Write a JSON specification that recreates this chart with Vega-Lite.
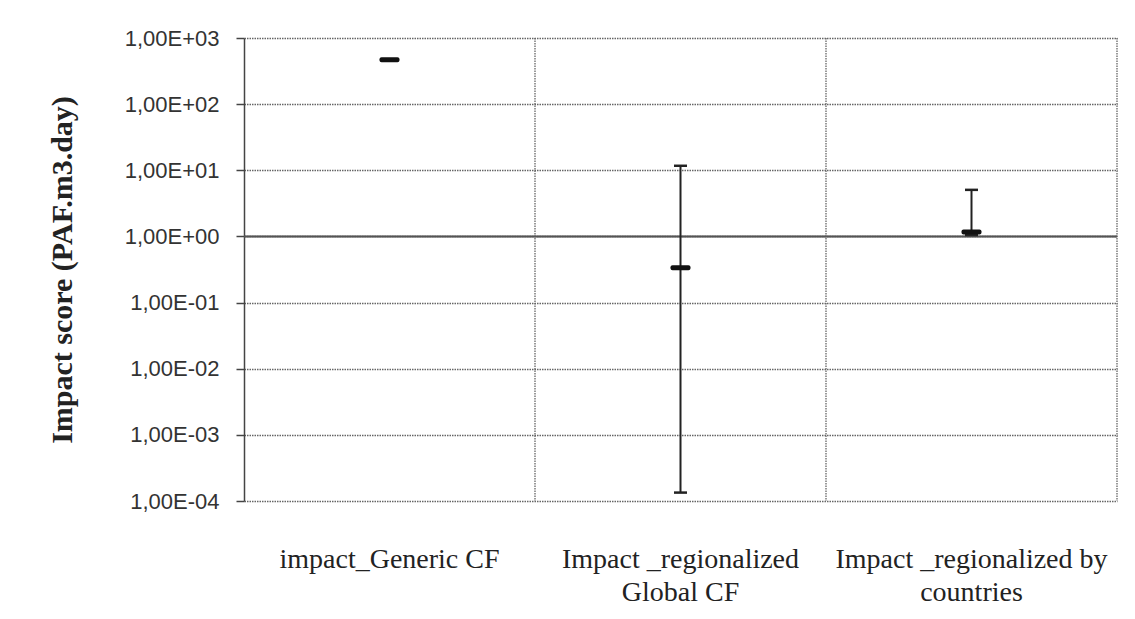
{
  "$schema": "https://vega.github.io/schema/vega-lite/v6.json",
  "autosize": "none",
  "width": 873,
  "height": 463,
  "padding": {"left": 244, "top": 38, "right": 18, "bottom": 118},
  "background": "white",
  "data": {
    "values": [
      {"cat": "impact_Generic CF", "value": 469, "lo": null, "hi": null},
      {"cat": "Impact _regionalized|Global CF", "value": 0.337, "lo": 0.000134, "hi": 11.7},
      {"cat": "Impact _regionalized by|countries", "value": 1.17, "lo": 1.05, "hi": 5.06}
    ]
  },
  "config": {
    "view": {"stroke": null},
    "font": "Liberation Serif"
  },
  "layer": [
    {
      "mark": {"type": "rule", "color": "#666", "strokeWidth": 1.3, "strokeDash": [1.5, 1]},
      "encoding": {
        "x": {
          "field": "cat",
          "type": "nominal",
          "sort": null,
          "bandPosition": 1,
          "scale": {"paddingInner": 0, "paddingOuter": 0},
          "axis": {
            "title": null,
            "labelAngle": 0,
            "labelExpr": "split(datum.label, '|')",
            "labelFont": "Liberation Serif",
            "labelFontSize": 28,
            "labelColor": "#222",
            "labelLineHeight": 33,
            "labelBaseline": "top",
            "labelPadding": 44,
            "labelLimit": 0,
            "ticks": false,
            "tickSize": 0,
            "domain": false,
            "grid": false
          }
        }
      }
    },
    {
      "mark": {"type": "tick", "opacity": 0},
      "encoding": {
        "x": {"field": "cat", "type": "nominal", "sort": null},
        "y": {
          "field": "value",
          "type": "quantitative",
          "scale": {"type": "log", "domain": [0.0001, 1000], "nice": false},
          "axis": {
            "title": "Impact score (PAF.m3.day)",
            "titleFont": "Liberation Serif",
            "titleFontWeight": "bold",
            "titleFontSize": 30,
            "titleColor": "#222",
            "titleX": -173,
            "titleBaseline": "alphabetic",
            "values": [0.0001, 0.001, 0.01, 0.1, 1, 10, 100, 1000],
            "labelExpr": "'1,00E' + (datum.value >= 1 ? '+' : '-') + '0' + format(abs(round(log(datum.value) / LN10)), 'd')",
            "labelFont": "Liberation Sans",
            "labelFontSize": 22,
            "labelColor": "#333",
            "labelPadding": 17,
            "tickSize": 8,
            "tickColor": "#444",
            "tickWidth": 1.5,
            "domainColor": "#444",
            "domainWidth": 1.5,
            "grid": true,
            "gridColor": "#666",
            "gridWidth": 1.3,
            "gridDash": [1.5, 1]
          }
        }
      }
    },
    {
      "mark": {"type": "rule", "color": "#555", "strokeWidth": 1.6},
      "encoding": {"y": {"datum": 1, "type": "quantitative"}}
    },
    {
      "transform": [{"filter": "datum.lo != null"}],
      "mark": {"type": "rule", "color": "#222", "strokeWidth": 2},
      "encoding": {
        "x": {"field": "cat", "type": "nominal", "sort": null},
        "y": {"field": "lo", "type": "quantitative"},
        "y2": {"field": "hi"}
      }
    },
    {
      "transform": [{"filter": "datum.lo != null"}],
      "mark": {"type": "tick", "color": "#222", "size": 13, "thickness": 2.5, "opacity": 1},
      "encoding": {
        "x": {"field": "cat", "type": "nominal", "sort": null},
        "y": {"field": "lo", "type": "quantitative"}
      }
    },
    {
      "transform": [{"filter": "datum.hi != null"}],
      "mark": {"type": "tick", "color": "#222", "size": 13, "thickness": 2.5, "opacity": 1},
      "encoding": {
        "x": {"field": "cat", "type": "nominal", "sort": null},
        "y": {"field": "hi", "type": "quantitative"}
      }
    },
    {
      "mark": {"type": "tick", "color": "#111", "size": 20, "thickness": 5, "opacity": 1, "cornerRadius": 2},
      "encoding": {
        "x": {"field": "cat", "type": "nominal", "sort": null},
        "y": {"field": "value", "type": "quantitative"}
      }
    }
  ]
}
